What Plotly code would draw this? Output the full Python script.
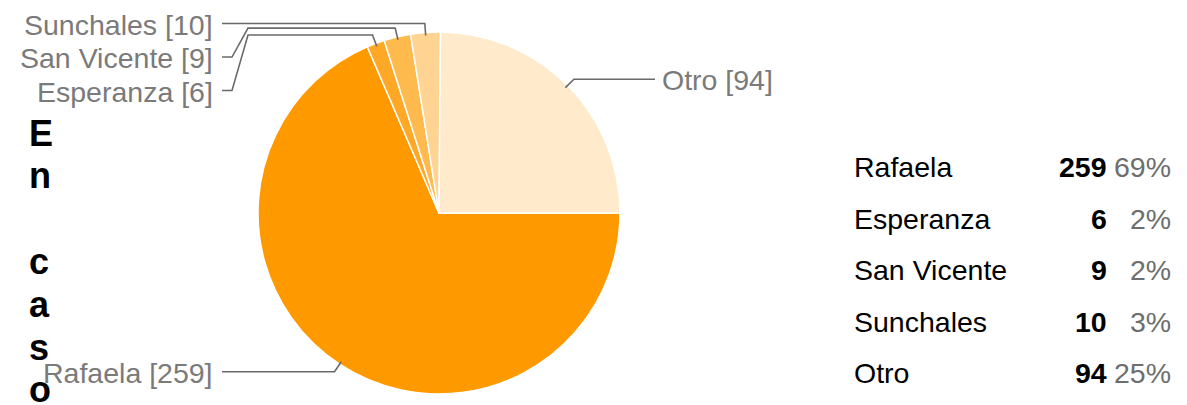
import math
import plotly.graph_objects as go

# ---- data ----
categories = ["Rafaela", "Esperanza", "San Vicente", "Sunchales", "Otro"]
values = [259, 6, 9, 10, 94]
colors = ["#ff9900", "#ffa826", "#ffba4d", "#ffd391", "#ffeacb"]
title_text = "En caso"

# ---- layout constants (pixels) ----
W, H = 1187, 405
CX, CY, R = 439, 213, 181
START_DEG = 90          # first slice starts at 3 o'clock, clockwise
LABEL_FS = 28.5
LEGEND_FS = 28.5
LINE_COLOR = "#6a6a6a"
LABEL_COLOR = "#7a7a7a"


def xp(x):
    return x / W


def yp(y):
    return 1 - y / H


total = sum(values)

fig = go.Figure()
fig.add_trace(go.Pie(
    labels=categories,
    values=values,
    sort=False,
    direction="clockwise",
    rotation=START_DEG,
    marker=dict(colors=colors, line=dict(color="white", width=1.5)),
    textinfo="none",
    hoverinfo="label+value+percent",
    showlegend=False,
    domain=dict(x=[xp(CX - R), xp(CX + R)], y=[yp(CY + R), yp(CY - R)]),
))

# ---- slice labels with leader lines ----
shapes = []
annotations = []
cum = 0
left_items = []
right_items = []
for name, v in zip(categories, values):
    mid = math.radians(START_DEG + (cum + v / 2) / total * 360)
    cum += v
    sx, sy = CX + (R - 3) * math.sin(mid), CY - (R - 3) * math.cos(mid)
    ex, ey = CX + (R + 9) * math.sin(mid), CY - (R + 9) * math.cos(mid)
    item = dict(name=name, v=v, sx=sx, sy=sy, ex=ex, ey=ey)
    (left_items if math.sin(mid) < 0 else right_items).append(item)

label_font = dict(size=LABEL_FS, color=LABEL_COLOR, family="Arial, Liberation Sans")

# left side: stack labels top-down
left_items.sort(key=lambda d: d["ey"])
prev = -1e9
for it in left_items:
    ly = max(it["ey"], prev + 33.5)
    prev = ly
    pts = [(it["sx"], it["sy"]), (it["ex"], it["ey"])]
    if abs(ly - it["ey"]) > 1:
        pts += [(248, it["ey"]), (232, ly), (222, ly)]
    else:
        pts += [(222, ly)]
    path = "M " + " L ".join(f"{xp(x)},{yp(y)}" for x, y in pts)
    shapes.append(dict(type="path", xref="paper", yref="paper", path=path,
                       line=dict(color=LINE_COLOR, width=1.6)))
    annotations.append(dict(x=xp(215), y=yp(ly + 1), xref="paper", yref="paper",
                            text=f"{it['name']} [{it['v']}]", showarrow=False,
                            xanchor="right", yanchor="middle", font=label_font))

for it in right_items:
    ly = it["ey"]
    pts = [(it["sx"], it["sy"]), (it["ex"], it["ey"]), (655, ly)]
    path = "M " + " L ".join(f"{xp(x)},{yp(y)}" for x, y in pts)
    shapes.append(dict(type="path", xref="paper", yref="paper", path=path,
                       line=dict(color=LINE_COLOR, width=1.6)))
    annotations.append(dict(x=xp(660), y=yp(ly + 1), xref="paper", yref="paper",
                            text=f"{it['name']} [{it['v']}]", showarrow=False,
                            xanchor="left", yanchor="middle", font=label_font))

# ---- right-side table legend ----
row_y0, row_step = 167, 51.5
leg_font = dict(size=LEGEND_FS, color="#000000", family="Arial, Liberation Sans")
for i, (name, v) in enumerate(zip(categories, values)):
    y = row_y0 + i * row_step
    pct = round(v / total * 100)
    annotations.append(dict(x=xp(852), y=yp(y), xref="paper", yref="paper",
                            text=name, showarrow=False, xanchor="left",
                            yanchor="middle", font=leg_font))
    annotations.append(dict(x=xp(1109), y=yp(y), xref="paper", yref="paper",
                            text=f"<b>{v}</b>", showarrow=False,
                            xanchor="right", yanchor="middle", font=leg_font))
    annotations.append(dict(x=xp(1173), y=yp(y), xref="paper", yref="paper",
                            text=f"{pct}%", showarrow=False,
                            xanchor="right", yanchor="middle",
                            font=dict(leg_font, color="#6e6e6e")))

# ---- vertically wrapped (clipped) question title ----
base0, step = 146, 42.8
for i, ch in enumerate(title_text):
    if ch.strip() == "":
        continue
    annotations.append(dict(x=xp(27), y=yp(base0 + i * step - 13), xref="paper",
                            yref="paper", text=f"<b>{ch}</b>", showarrow=False,
                            xanchor="left", yanchor="middle",
                            font=dict(size=36, color="#000000",
                                      family="Arial, Liberation Sans")))

fig.update_layout(
    width=W, height=H,
    margin=dict(l=0, r=0, t=0, b=0),
    paper_bgcolor="white", plot_bgcolor="white",
    shapes=shapes, annotations=annotations,
)

fig.write_html("out.html",
               config={"displayModeBar": False},
               post_script="document.body.style.margin='0';"
                           "document.body.style.overflow='hidden';")
